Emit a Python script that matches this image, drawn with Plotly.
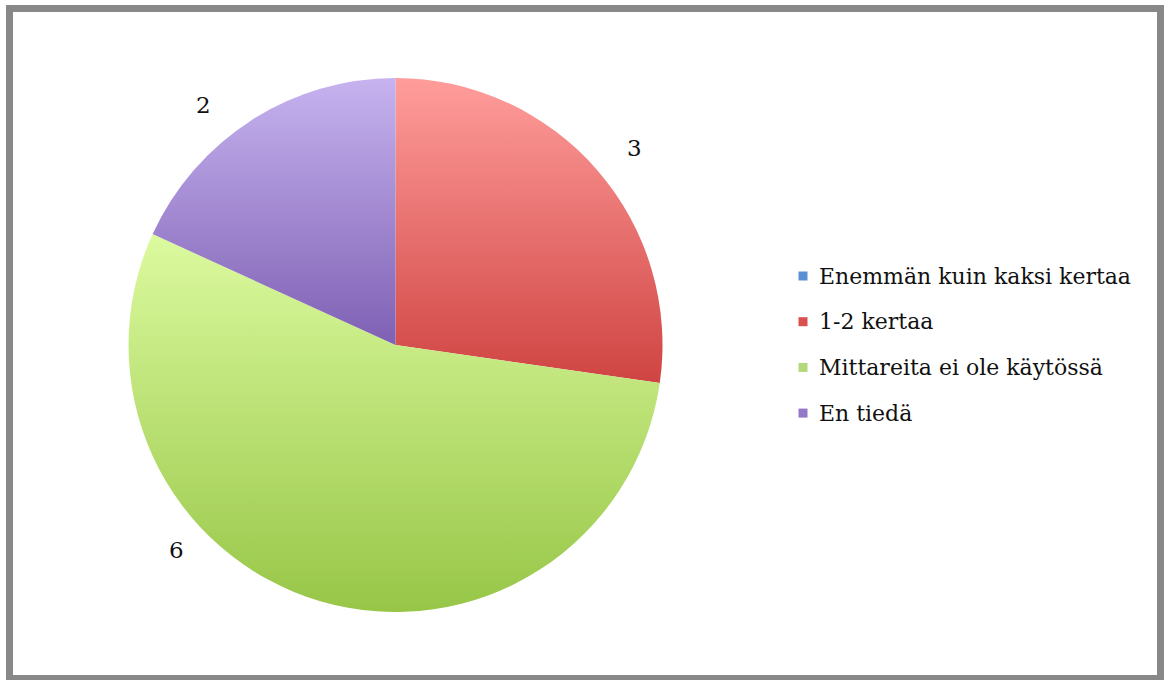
import json
import plotly.graph_objects as go

# Survey answers and their counts
categories = ["Enemmän kuin kaksi kertaa", "1-2 kertaa", "Mittareita ei ole käytössä", "En tiedä"]
counts = [0, 3, 6, 2]

# Slice fills: flat base colour plus a light-to-dark vertical gradient per slice
base_colors = ["#5B8DD0", "#DA534F", "#B9DE74", "#9B80CF"]
grad_top = ["#8DB3E8", "#FF9D9B", "#DCFA9F", "#C6B3EF"]
grad_bottom = ["#3F6FB0", "#CF4442", "#97C647", "#7F60B4"]
legend_colors = ["#5B8FD3", "#D9504E", "#B4D97A", "#9278C6"]

W, H = 1166, 680
FONT = "DejaVu Serif"


def px(x):
    return x / W


def py(y):
    return 1 - y / H


fig = go.Figure(
    go.Pie(
        labels=categories,
        values=counts,
        sort=False,
        direction="clockwise",
        rotation=0,
        textinfo="none",
        hoverinfo="label+value",
        marker=dict(colors=base_colors, line=dict(width=0)),
        domain=dict(x=[px(128), px(663)], y=[py(612), py(78)]),
        showlegend=False,
    )
)

# Value labels placed outside their slices
label_pos = {1: (634, 148), 2: (176, 550), 3: (203, 105)}
annotations = []
for i, (lx, ly) in label_pos.items():
    annotations.append(dict(
        x=px(lx), y=py(ly), xref="paper", yref="paper",
        text=str(counts[i]), showarrow=False,
        font=dict(family=FONT, size=23, color="#111111"),
        xanchor="center", yanchor="middle",
    ))

# Legend drawn as small squares with labels
shapes = []
row_y0, row_gap = 276, 45.7
for i, name in enumerate(categories):
    cy = row_y0 + i * row_gap
    shapes.append(dict(
        type="rect", xref="paper", yref="paper",
        x0=px(798.5), x1=px(807.5), y0=py(cy + 4.5), y1=py(cy - 4.5),
        fillcolor=legend_colors[i], line=dict(width=0),
    ))
    annotations.append(dict(
        x=px(817), y=py(cy), xref="paper", yref="paper",
        text=name, showarrow=False,
        font=dict(family=FONT, size=22, color="#111111"),
        xanchor="left", yanchor="middle",
    ))

# Grey frame around the whole chart
shapes.append(dict(
    type="rect", xref="paper", yref="paper",
    x0=px(9.5), x1=px(1160.5), y0=py(678.5), y1=py(8.5),
    line=dict(color="#888888", width=7), fillcolor="rgba(0,0,0,0)",
))

fig.update_layout(
    width=W, height=H,
    margin=dict(l=0, r=0, t=0, b=0),
    paper_bgcolor="white", plot_bgcolor="white",
    showlegend=False,
    shapes=shapes,
    annotations=annotations,
)

# Replace the flat slice fills with vertical gradients once the pie is drawn
gradient_js = """
var gd = document.getElementById('{plot_id}');
var tops = %s, bottoms = %s;
function paintSlices() {
  var svg = gd.querySelector('svg.main-svg');
  if (!svg) return;
  var ns = 'http://www.w3.org/2000/svg';
  var defs = svg.querySelector('defs');
  if (!defs) { defs = document.createElementNS(ns, 'defs'); svg.insertBefore(defs, svg.firstChild); }
  for (var k = 0; k < tops.length; k++) {
    var id = 'slicegrad' + k;
    if (document.getElementById(id)) continue;
    var lg = document.createElementNS(ns, 'linearGradient');
    lg.setAttribute('id', id);
    lg.setAttribute('x1', '0'); lg.setAttribute('y1', '0');
    lg.setAttribute('x2', '0'); lg.setAttribute('y2', '1');
    var s1 = document.createElementNS(ns, 'stop');
    s1.setAttribute('offset', '0'); s1.setAttribute('stop-color', tops[k]);
    var s2 = document.createElementNS(ns, 'stop');
    s2.setAttribute('offset', '1'); s2.setAttribute('stop-color', bottoms[k]);
    lg.appendChild(s1); lg.appendChild(s2);
    defs.appendChild(lg);
  }
  gd.querySelectorAll('g.slice').forEach(function (g) {
    var d = g.__data__;
    if (!d) return;
    var p = g.querySelector('path.surface');
    if (p) p.style.fill = 'url(#slicegrad' + d.i + ')';
  });
}
paintSlices();
gd.on('plotly_afterplot', paintSlices);
""" % (json.dumps(grad_top), json.dumps(grad_bottom))

fig.write_html("out.html", post_script=gradient_js)
